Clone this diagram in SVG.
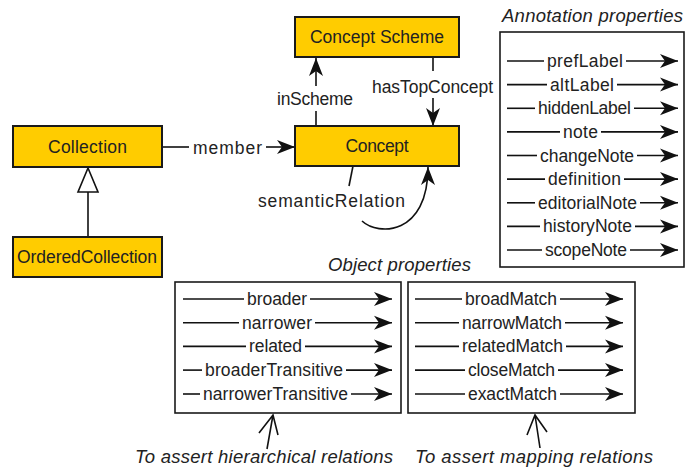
<svg xmlns="http://www.w3.org/2000/svg" width="686" height="468" viewBox="0 0 686 468">
<defs>
<style>
.box{fill:#FFCC00;stroke:#1a1a1a;stroke-width:2}
.pbox{fill:#ffffff;stroke:#1a1a1a;stroke-width:1.6}
.t{font-family:"Liberation Sans",Arial,sans-serif;font-size:17.5px;fill:#222;text-anchor:middle}
.ti{font-family:"Liberation Sans",Arial,sans-serif;font-size:18.5px;font-style:italic;fill:#222;text-anchor:middle}
.ln{stroke:#111;stroke-width:1.6;fill:none}
.ar{stroke:#111;stroke-width:1.6;fill:none;marker-end:url(#arr)}
</style>
<marker id="arr" markerUnits="userSpaceOnUse" markerWidth="19" markerHeight="15" refX="18" refY="7" orient="auto" overflow="visible">
<path d="M0,0 L18,7 L0,14 L5,7 Z" fill="#111"/>
</marker>
</defs>
<rect width="686" height="468" fill="#ffffff"/>

<g id="connectors">
<!-- member -->
<line class="ln" x1="162" y1="147" x2="189" y2="147"/>
<line class="ar" x1="266" y1="147" x2="295" y2="147"/>
<text class="t" x="227.5" y="154" textLength="69" lengthAdjust="spacing">member</text>
<!-- inScheme -->
<line class="ln" x1="316" y1="126" x2="316" y2="111"/>
<line class="ar" x1="316" y1="86" x2="316" y2="58"/>
<text class="t" x="315" y="105" textLength="76" lengthAdjust="spacing">inScheme</text>
<!-- hasTopConcept -->
<line class="ln" x1="433" y1="57" x2="433" y2="71"/>
<line class="ar" x1="433" y1="98" x2="433" y2="126"/>
<text class="t" x="432.5" y="93" textLength="121" lengthAdjust="spacing">hasTopConcept</text>
<!-- semanticRelation -->
<path class="ln" d="M353,166 Q351,176 349,186"/>
<path class="ar" d="M362,221 C378,236 428,236 428,167"/>
<text class="t" x="331.5" y="207" textLength="147" lengthAdjust="spacing">semanticRelation</text>
<!-- generalization -->
<line class="ln" x1="88" y1="192" x2="88" y2="237"/>
<path d="M88,168 L78,192 L98,192 Z" fill="#ffffff" stroke="#111" stroke-width="1.6"/>
<!-- note arrows -->
<path class="ln" d="M267,449 L273,415 M259,433 L273,415 L278,435"/>
<path class="ln" d="M540,448 L535,415 M527,435 L535,415 L547,432"/>
</g>

<g id="concept-scheme">
<rect class="box" x="295" y="17" width="164" height="40"/>
<text class="t" x="377" y="43" textLength="134" lengthAdjust="spacing">Concept Scheme</text>
</g>
<g id="concept">
<rect class="box" x="295" y="126" width="164" height="40"/>
<text class="t" x="377" y="152" textLength="63" lengthAdjust="spacing">Concept</text>
</g>
<g id="collection">
<rect class="box" x="13" y="126" width="149" height="41"/>
<text class="t" x="87.5" y="152.5" textLength="79" lengthAdjust="spacing">Collection</text>
</g>
<g id="ordered-collection">
<rect class="box" x="13" y="237" width="149" height="40"/>
<text class="t" x="87" y="263" textLength="140" lengthAdjust="spacing">OrderedCollection</text>
</g>

<g id="annotation-properties">
<text class="ti" x="592.5" y="22" textLength="181" lengthAdjust="spacing">Annotation properties</text>
<rect class="pbox" x="500" y="32" width="184" height="235"/>
<g>
<line class="ln" x1="507" y1="61" x2="544" y2="61"/><line class="ar" x1="626" y1="61" x2="678" y2="61"/>
<text class="t" x="585" y="67" textLength="76" lengthAdjust="spacing">prefLabel</text>
<line class="ln" x1="507" y1="84.6" x2="547" y2="84.6"/><line class="ar" x1="617" y1="84.6" x2="678" y2="84.6"/>
<text class="t" x="582" y="90.6" textLength="64" lengthAdjust="spacing">altLabel</text>
<line class="ln" x1="507" y1="108.3" x2="535" y2="108.3"/><line class="ar" x1="634" y1="108.3" x2="678" y2="108.3"/>
<text class="t" x="584.5" y="114.3" textLength="93" lengthAdjust="spacing">hiddenLabel</text>
<line class="ln" x1="507" y1="131.9" x2="560" y2="131.9"/><line class="ar" x1="601" y1="131.9" x2="678" y2="131.9"/>
<text class="t" x="580.5" y="137.9" textLength="35" lengthAdjust="spacing">note</text>
<line class="ln" x1="507" y1="155.5" x2="537" y2="155.5"/><line class="ar" x1="637" y1="155.5" x2="678" y2="155.5"/>
<text class="t" x="587" y="161.5" textLength="94" lengthAdjust="spacing">changeNote</text>
<line class="ln" x1="507" y1="179.1" x2="545" y2="179.1"/><line class="ar" x1="624" y1="179.1" x2="678" y2="179.1"/>
<text class="t" x="584.5" y="185.1" textLength="73" lengthAdjust="spacing">definition</text>
<line class="ln" x1="507" y1="202.8" x2="535" y2="202.8"/><line class="ar" x1="640" y1="202.8" x2="678" y2="202.8"/>
<text class="t" x="587.5" y="208.8" textLength="99" lengthAdjust="spacing">editorialNote</text>
<line class="ln" x1="507" y1="226.4" x2="540" y2="226.4"/><line class="ar" x1="635" y1="226.4" x2="678" y2="226.4"/>
<text class="t" x="587.5" y="232.4" textLength="89" lengthAdjust="spacing">historyNote</text>
<line class="ln" x1="507" y1="250" x2="542" y2="250"/><line class="ar" x1="630" y1="250" x2="678" y2="250"/>
<text class="t" x="586" y="256" textLength="82" lengthAdjust="spacing">scopeNote</text>
</g>
</g>

<text class="ti" x="399.5" y="271" textLength="143" lengthAdjust="spacing">Object properties</text>

<g id="hierarchical-properties">
<rect class="pbox" x="175" y="282" width="226" height="131"/>
<line class="ln" x1="183" y1="299" x2="244" y2="299"/><line class="ar" x1="310" y1="299" x2="392" y2="299"/>
<text class="t" x="277" y="305" textLength="60" lengthAdjust="spacing">broader</text>
<line class="ln" x1="183" y1="322.7" x2="239" y2="322.7"/><line class="ar" x1="315" y1="322.7" x2="392" y2="322.7"/>
<text class="t" x="277" y="328.7" textLength="70" lengthAdjust="spacing">narrower</text>
<line class="ln" x1="183" y1="346.4" x2="246" y2="346.4"/><line class="ar" x1="305" y1="346.4" x2="392" y2="346.4"/>
<text class="t" x="275.5" y="352.4" textLength="53" lengthAdjust="spacing">related</text>
<line class="ln" x1="183" y1="370.1" x2="202" y2="370.1"/><line class="ar" x1="346" y1="370.1" x2="392" y2="370.1"/>
<text class="t" x="274" y="376.1" textLength="138" lengthAdjust="spacing">broaderTransitive</text>
<line class="ln" x1="183" y1="394" x2="200" y2="394"/><line class="ar" x1="351" y1="394" x2="392" y2="394"/>
<text class="t" x="275.5" y="400" textLength="145" lengthAdjust="spacing">narrowerTransitive</text>
</g>

<g id="mapping-properties">
<rect class="pbox" x="408" y="282" width="227" height="131"/>
<line class="ln" x1="415" y1="299" x2="462" y2="299"/><line class="ar" x1="560" y1="299" x2="623" y2="299"/>
<text class="t" x="511" y="305" textLength="92" lengthAdjust="spacing">broadMatch</text>
<line class="ln" x1="415" y1="322.7" x2="459" y2="322.7"/><line class="ar" x1="565" y1="322.7" x2="623" y2="322.7"/>
<text class="t" x="512" y="328.7" textLength="100" lengthAdjust="spacing">narrowMatch</text>
<line class="ln" x1="415" y1="346.4" x2="459" y2="346.4"/><line class="ar" x1="566" y1="346.4" x2="623" y2="346.4"/>
<text class="t" x="512.5" y="352.4" textLength="101" lengthAdjust="spacing">relatedMatch</text>
<line class="ln" x1="415" y1="370.1" x2="465" y2="370.1"/><line class="ar" x1="558" y1="370.1" x2="623" y2="370.1"/>
<text class="t" x="511.5" y="376.1" textLength="87" lengthAdjust="spacing">closeMatch</text>
<line class="ln" x1="415" y1="394" x2="465" y2="394"/><line class="ar" x1="560" y1="394" x2="623" y2="394"/>
<text class="t" x="512.5" y="400" textLength="89" lengthAdjust="spacing">exactMatch</text>
</g>

<text class="ti" x="264" y="463" textLength="258" lengthAdjust="spacing">To assert hierarchical relations</text>
<text class="ti" x="534" y="463" textLength="238" lengthAdjust="spacing">To assert mapping relations</text>
</svg>
